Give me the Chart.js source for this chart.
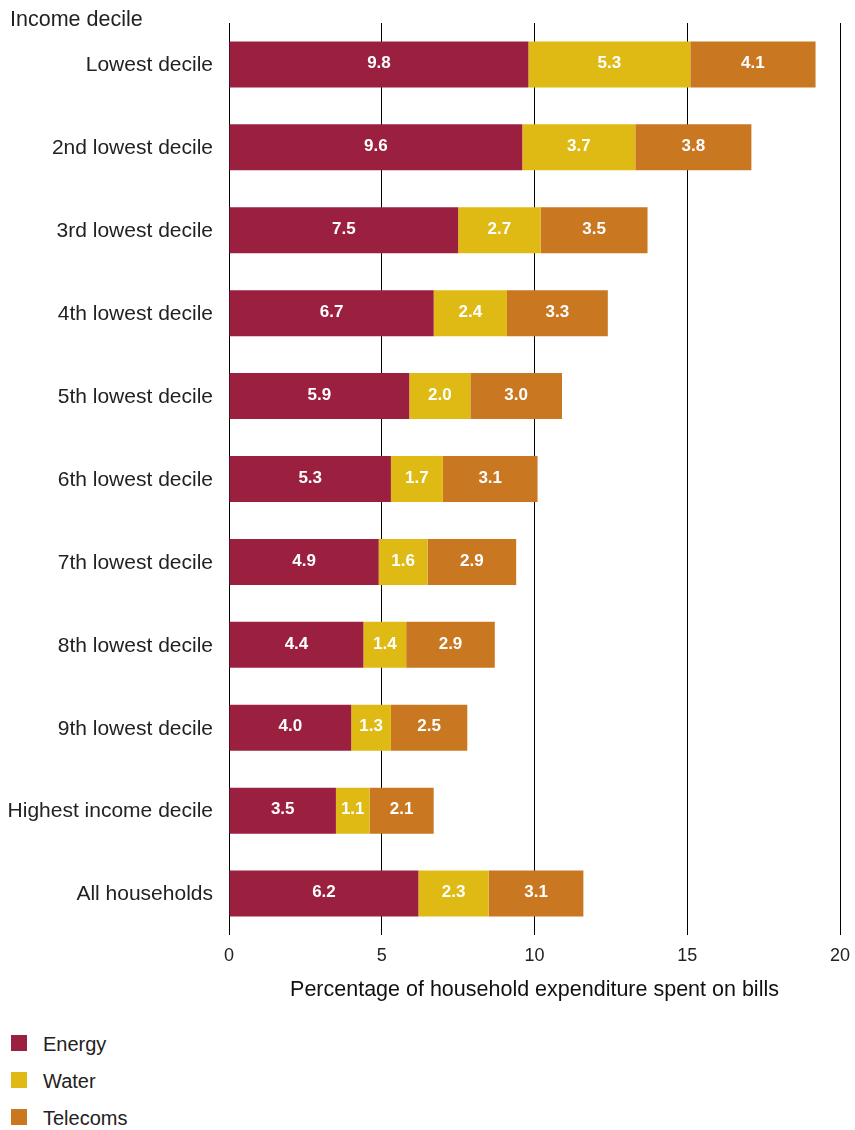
<!DOCTYPE html>
<html>
<head>
<meta charset="utf-8">
<script src="https://cdn.jsdelivr.net/npm/chart.js@4/dist/chart.umd.min.js"></script>
<style>
  body {
    margin: 0;
    background: #fff;
    font-family: "Liberation Sans", Arial, sans-serif;
    color: #222;
  }
  #wrap {
    position: relative;
    width: 855px;
    height: 1130px;
  }
  #yTitle {
    position: absolute;
    left: 10px;
    top: 7px;
    font-size: 21.5px;
  }
  #chart {
    position: absolute;
    left: 0;
    top: 0;
  }
  #legend {
    position: absolute;
    left: 11px;
    top: 1034px;
  }
  .item {
    display: flex;
    align-items: center;
    height: 37px;
    margin-top: -10px;
    margin-bottom: 10px;
    font-size: 20px;
  }
  .item span.name {
    position: relative;
    top: 2px;
  }
  .box {
    width: 16px;
    height: 16px;
    margin-right: 16px;
  }
</style>
</head>
<body>
<div id="wrap">
  <canvas id="chart" width="855" height="1010"></canvas>
  <div id="yTitle">Income decile</div>
  <div id="legend"></div>
</div>
<script>
// カテゴリ（所得十分位）
const deciles = [
  "Lowest decile",
  "2nd lowest decile",
  "3rd lowest decile",
  "4th lowest decile",
  "5th lowest decile",
  "6th lowest decile",
  "7th lowest decile",
  "8th lowest decile",
  "9th lowest decile",
  "Highest income decile",
  "All households",
];

// 各項目の支出割合（%）
const energy = [9.8, 9.6, 7.5, 6.7, 5.9, 5.3, 4.9, 4.4, 4.0, 3.5, 6.2];
const water = [5.3, 3.7, 2.7, 2.4, 2.0, 1.7, 1.6, 1.4, 1.3, 1.1, 2.3];
const telecoms = [4.1, 3.8, 3.5, 3.3, 3.0, 3.1, 2.9, 2.9, 2.5, 2.1, 3.1];

const seriesNames = ["Energy", "Water", "Telecoms"];
const seriesColors = ["#9b2040", "#dfba15", "#c97821"];
const xTicks = [0, 5, 10, 15, 20];

const fontFamily = '"Liberation Sans", Arial, sans-serif';

// バーの中に数値を書く
const barLabels = {
  id: "barLabels",
  afterDatasetsDraw(chart) {
    const ctx = chart.ctx;
    ctx.save();
    ctx.fillStyle = "#fff";
    ctx.font = "bold 17px " + fontFamily;
    ctx.textAlign = "center";
    ctx.textBaseline = "middle";
    chart.data.datasets.forEach((ds, i) => {
      const meta = chart.getDatasetMeta(i);
      meta.data.forEach((bar, j) => {
        const x = (bar.x + bar.base) / 2;
        ctx.fillText(ds.data[j].toFixed(1), x, bar.y - 1);
      });
    });
    ctx.restore();
  },
};

const datasets = [energy, water, telecoms].map((values, i) => ({
  label: seriesNames[i],
  data: values,
  backgroundColor: seriesColors[i],
  borderWidth: 0,
  barPercentage: 0.555,
  categoryPercentage: 1,
}));

const ctx = document.getElementById("chart").getContext("2d");

new Chart(ctx, {
  type: "bar",
  data: {
    labels: deciles,
    datasets: datasets,
  },
  plugins: [barLabels],
  options: {
    indexAxis: "y",
    responsive: false,
    animation: false,
    layout: {
      padding: { top: 23, right: 15, left: 0, bottom: 0 },
    },
    plugins: {
      legend: { display: false },
      tooltip: { enabled: false },
    },
    scales: {
      x: {
        stacked: true,
        min: 0,
        max: 20,
        afterBuildTicks: (axis) => {
          axis.ticks = xTicks.map((v) => ({ value: v }));
        },
        // 軸の高さを固定する
        afterFit: (axis) => {
          axis.height = 75;
          axis.paddingLeft = 0;
          axis.paddingRight = 0;
        },
        grid: {
          color: "#000",
          lineWidth: 1,
          drawTicks: false,
        },
        border: { display: false },
        ticks: {
          padding: 10,
          color: "#222",
          font: { family: fontFamily, size: 18 },
        },
        title: {
          display: true,
          text: "Percentage of household expenditure spent on bills",
          color: "#111",
          font: { family: fontFamily, size: 21.5 },
          padding: { top: 4, bottom: 7 },
        },
      },
      y: {
        stacked: true,
        // ラベル幅を固定して、上下の余白は付けない
        afterFit: (axis) => {
          axis.width = 229;
          axis.paddingTop = 0;
          axis.paddingBottom = 0;
        },
        grid: { display: false, drawTicks: false },
        border: { display: false },
        ticks: {
          padding: 16,
          labelOffset: 1,
          color: "#222",
          font: { family: fontFamily, size: 21 },
        },
      },
    },
  },
});

// 凡例（縦並び）
const legendElement = document.getElementById("legend");
seriesNames.forEach((name, i) => {
  const item = document.createElement("div");
  item.className = "item";
  item.innerHTML = `<span class="box" style="background:${seriesColors[i]}"></span><span class="name">${name}</span>`;
  legendElement.appendChild(item);
});
</script>
</body>
</html>
